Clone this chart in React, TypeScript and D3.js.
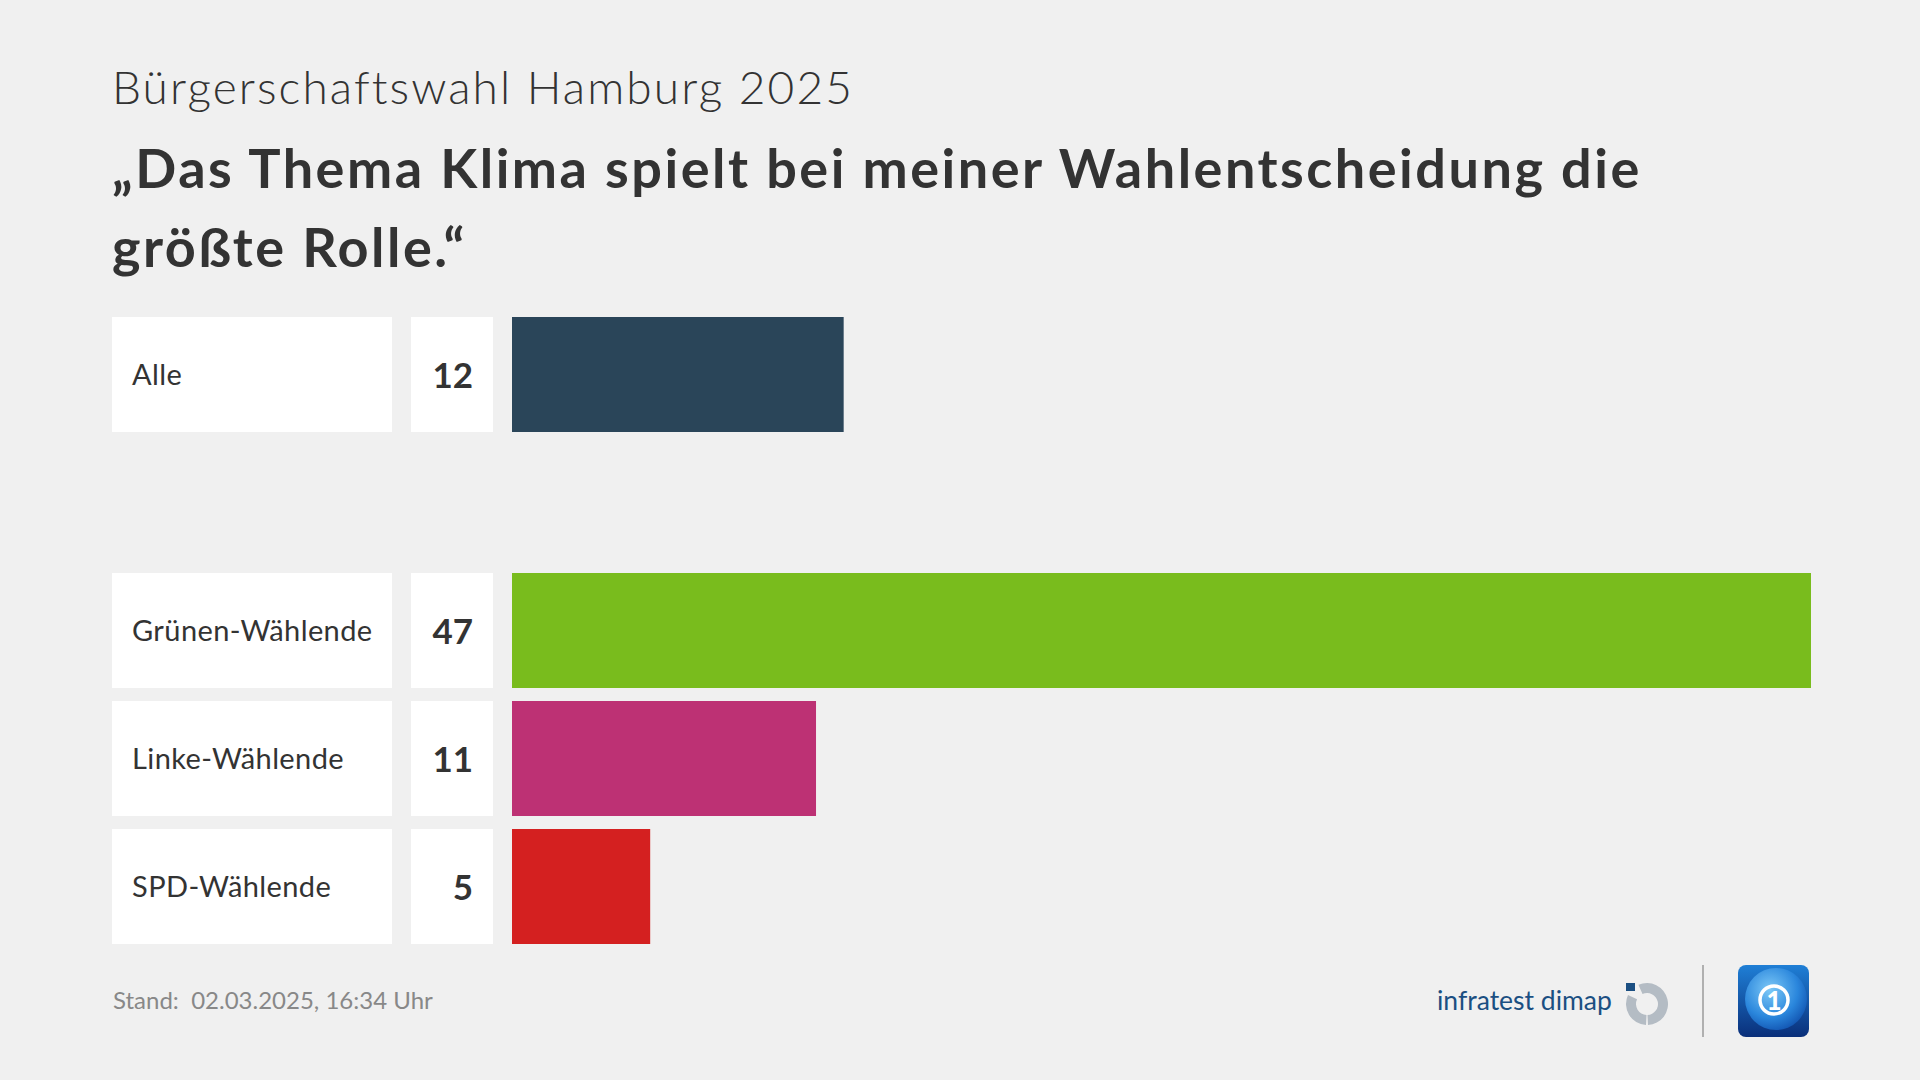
import React, { useEffect } from "react";
import * as d3 from "d3";

const categories = ["Alle", "Grünen-Wählende", "Linke-Wählende", "SPD-Wählende"];
const values = [12, 47, 11, 5];
const colors = ["#2a4559", "#79bc1d", "#bd3174", "#d42020"];
const slots = ["Alle", "__gap__", "Grünen-Wählende", "Linke-Wählende", "SPD-Wählende"];
const subtitle = "Bürgerschaftswahl Hamburg 2025";
const titleLines = ["„Das Thema Klima spielt bei meiner Wahlentscheidung die", "größte Rolle.“"];
const footer = "Stand:  02.03.2025, 16:34 Uhr";

const FONT = "Lato, 'Open Sans', sans-serif";

export default function App() {
  useEffect(() => {
    document.body.style.margin = "0";
    document.body.style.background = "#f0f0f0";
  }, []);

  const y = d3.scaleBand<string>().domain(slots).range([317, 944]).paddingInner(13 / 128).paddingOuter(0);
  const x = d3.scaleLinear().domain([0, 47]).range([512, 1811]);
  const bw = y.bandwidth();
  const arc = d3.arc();
  const grey = "#b4bcc4";

  return (
    <svg width={1920} height={1080} style={{ display: "block", background: "#f0f0f0" }}>
      <rect x={0} y={0} width={1920} height={1080} fill="#f0f0f0" />
      <text x={112} y={104} fontFamily={FONT} fontWeight={300} fontSize={46} letterSpacing={2.1} fill="#333">{subtitle}</text>
      {titleLines.map((t, i) => (
        <text key={i} x={112} y={188 + i * 79} fontFamily={FONT} fontWeight={700} fontSize={54} letterSpacing={2.5} fill="#333">{t}</text>
      ))}
      {categories.map((c, i) => {
        const y0 = y(c)!;
        const cy = y0 + bw / 2;
        return (
          <g key={c}>
            <rect x={112} y={y0} width={280} height={bw} fill="#fff" />
            <rect x={411} y={y0} width={82} height={bw} fill="#fff" />
            <rect x={x(0)} y={y0} width={x(values[i]) - x(0)} height={bw} fill={colors[i]} />
            <text x={132} y={cy + 10} fontFamily={FONT} fontSize={29} letterSpacing={0.4} fill="#333">{c}</text>
            <text x={473} y={cy + 13} textAnchor="end" fontFamily={FONT} fontWeight={700} fontSize={35} fill="#333">{values[i]}</text>
          </g>
        );
      })}
      <text x={113} y={1009} fontFamily={FONT} fontSize={24} fill="#888" style={{ whiteSpace: "pre" }}>{footer}</text>
      {/* infratest dimap logo */}
      <text x={1437} y={1010} fontFamily={FONT} fontSize={26.5} fill="#1b4f82">infratest dimap</text>
      <rect x={1626} y={983} width={9} height={8} fill="#1b4f82" />
      <g transform="translate(1647,1004)">
        <path d={arc({ innerRadius: 11, outerRadius: 21, startAngle: -0.42, endAngle: Math.PI * 0.985 }) || ""} fill={grey} />
        <path d={arc({ innerRadius: 11, outerRadius: 21, startAngle: Math.PI * 1.015, endAngle: Math.PI * 1.64 }) || ""} fill={grey} />
      </g>
      <line x1={1703} y1={965} x2={1703} y2={1037} stroke="#b0b0b0" strokeWidth={2} />
      {/* ARD logo */}
      <defs>
        <linearGradient id="ardg" x1="0" y1="0" x2="0" y2="1">
          <stop offset="0" stopColor="#1f7fd6" />
          <stop offset="1" stopColor="#0a2f7a" />
        </linearGradient>
        <radialGradient id="globe" cx="0.4" cy="0.35" r="0.75">
          <stop offset="0" stopColor="#7cc8f7" />
          <stop offset="0.6" stopColor="#2a86dc" />
          <stop offset="1" stopColor="#0d4aa8" />
        </radialGradient>
        <clipPath id="ardclip">
          <rect x={1738} y={965} width={71} height={72} rx={8} />
        </clipPath>
      </defs>
      <rect x={1738} y={965} width={71} height={72} rx={8} fill="url(#ardg)" />
      <g clipPath="url(#ardclip)">
        <circle cx={1776} cy={999} r={31} fill="url(#globe)" />
      </g>
      <circle cx={1774} cy={1000} r={14} fill="none" stroke="#fff" strokeWidth={3.5} />
      <text x={1774} y={1010} textAnchor="middle" fontFamily={FONT} fontWeight={900} fontSize={26} fill="#fff">1</text>
    </svg>
  );
}
